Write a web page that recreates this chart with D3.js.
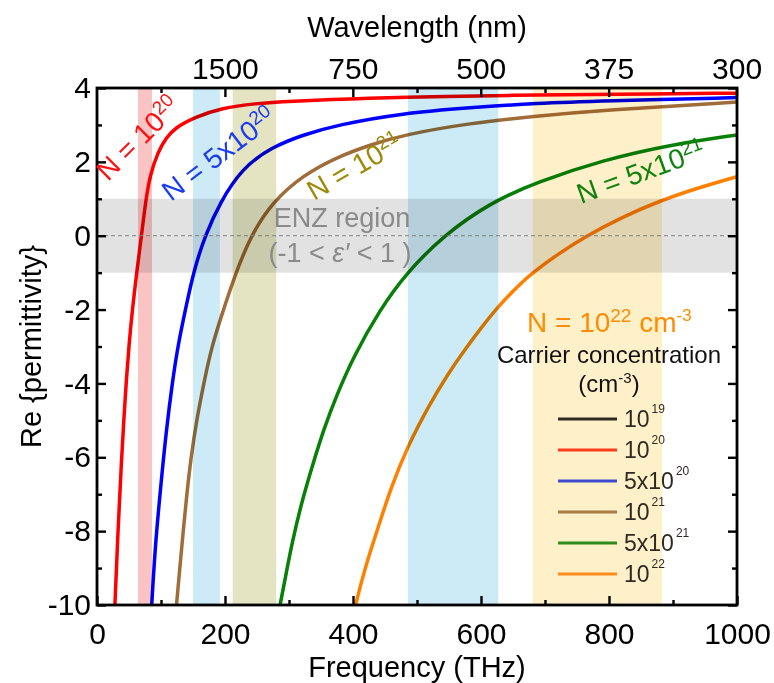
<!DOCTYPE html>
<html>
<head>
<meta charset="utf-8">
<script src="https://cdn.jsdelivr.net/npm/d3@7"></script>
<style>
    body { margin: 0; background: #fff; }
    text { font-family: "Liberation Sans", Arial, sans-serif; }
</style>
</head>
<body>
<div id="chart"></div>
<script>
'use strict';

// Axis ticks
const freqTicks = [0, 200, 400, 600, 800, 1000];
const freqMinorTicks = [100, 300, 500, 700, 900];
const wavelengthTicks = [1500, 750, 500, 375, 300];
const permTicks = [-10, -8, -6, -4, -2, 0, 2, 4];
const permMinorTicks = [-9, -7, -5, -3, -1, 1, 3];

// Curves: frequency in THz, Re{permittivity}
const freq1e20 = [28, 32.8, 38.3, 41.9, 45.8, 50, 55.2, 62.5, 69.5, 75.8, 82.8, 95.3, 108, 121.9, 153, 195, 247, 300, 400, 478, 600, 687, 800, 1000];
const eps1e20 = [-10, -7.97, -6.07, -4.99, -3.91, -2.96, -2.01, -0.93, 0, 0.91, 1.64, 2.27, 2.65, 2.92, 3.21, 3.46, 3.58, 3.64, 3.71, 3.75, 3.79, 3.81, 3.83, 3.86];
const freq5e20 = [85.5, 91, 98.4, 108, 118.3, 126.6, 140, 151.6, 168.8, 192.2, 226.6, 273, 322, 375, 478, 583, 687, 791, 1000];
const eps5e20 = [-10, -8.4, -7, -5.3, -3.9, -2.96, -1.85, -0.93, 0, 0.9, 1.83, 2.4, 2.73, 3.0, 3.32, 3.47, 3.59, 3.65, 3.74];
const freq1e21 = [124.2, 129.4, 134.7, 140.3, 146.9, 155.5, 168, 178, 192.2, 218.3, 240.6, 273.4, 322, 375, 427, 478, 583, 687, 791, 1000];
const eps1e21 = [-10, -9, -8, -7, -6, -5, -3.9, -3.1, -2.28, -0.93, 0, 0.9, 1.64, 2.13, 2.46, 2.73, 3.05, 3.24, 3.4, 3.62];
const freq5e21 = [286, 295, 305, 320, 337, 355, 375, 400, 442, 484, 541, 614, 687, 791, 895, 1000];
const eps5e21 = [-10, -9.2, -8.3, -7.2, -6.2, -5.2, -4.3, -3.3, -2.0, -1.0, 0, 0.89, 1.45, 2.05, 2.46, 2.73];
const freq1e22 = [404, 415, 427, 442, 460, 484, 520, 550, 572, 600, 625, 661, 681, 720, 765, 820, 880, 940, 1000];
const eps1e22 = [-10, -9.25, -8.55, -7.75, -6.8, -5.75, -4.55, -3.7, -3.15, -2.5, -1.95, -1.3, -1.0, -0.5, 0, 0.5, 0.95, 1.3, 1.6];

// Shaded frequency bands (THz) and the ENZ permittivity range
const bandFrom = [64, 150, 212, 486, 681];
const bandTo = [86, 192, 280, 627, 883];
const enzRange = [-1, 1];

// Legend entries: base text, exponent
const legendBase = ['10', '10', '5x10', '10', '5x10', '10'];
const legendExp = ['19', '20', '20', '21', '21', '22'];

/*
Permittivity chart
 */
class PermittivityChart {

    // Configs
    svgW = 774;
    svgH = 683;
    gMargin = {top: 88, right: 37, bottom: 78, left: 97};
    gW = this.svgW - (this.gMargin.left + this.gMargin.right);
    gH = this.svgH - (this.gMargin.top + this.gMargin.bottom);
    lightSpeed = 299792.458; // nm * THz

    // Styles
    curveColors = ['#ff0000', '#0000ff', '#a06c3a', '#088008', '#ff8000'];
    bandColors = ['#fac4c4', '#cdeaf7', '#e4e4c3', '#cdeaf7', '#fef0c8'];
    legendColors = ['#2f2a20', '#ff3c1e', '#3c4ccc', '#a87c40', '#2e8b1e', '#ff8c1e'];

    // Tools
    xScale = d3.scaleLinear().domain([0, 1000]).range([0, this.gW]);
    yScale = d3.scaleLinear().domain([-10, 4]).range([this.gH, 0]);

    constructor(_target) {
        this.target = _target;
        this.init();
    }

    /*
    1. Init
     */
    init() {
        const vis = this;

        vis.svg = d3.select(`#${vis.target}`)
            .append('svg')
            .attr('width', vis.svgW)
            .attr('height', vis.svgH);
        vis.g = vis.svg.append('g')
            .attr('transform', `translate(${vis.gMargin.left},${vis.gMargin.top})`);

        vis.svg.append('defs').append('clipPath')
            .attr('id', 'plotClip')
            .append('rect')
            .attr('width', vis.gW)
            .attr('height', vis.gH);

        vis.wrangle();
    }

    /*
    2. Wrangle
     */
    wrangle() {
        const vis = this;
        const pairs = (fs, es) => fs.map((f, i) => ({f: f, e: es[i]}));
        vis.series = [
            pairs(freq1e20, eps1e20),
            pairs(freq5e20, eps5e20),
            pairs(freq1e21, eps1e21),
            pairs(freq5e21, eps5e21),
            pairs(freq1e22, eps1e22)
        ];
        vis.bands = bandFrom.map((d, i) => ({from: d, to: bandTo[i], color: vis.bandColors[i]}));
        vis.render();
    }

    /*
    3. Render
     */
    render() {
        const vis = this;
        const x = vis.xScale, y = vis.yScale;

        // Curves
        const line = d3.line()
            .x(d => x(d.f))
            .y(d => y(d.e))
            .curve(d3.curveBasis);
        vis.g.append('g')
            .attr('clip-path', 'url(#plotClip)')
            .selectAll('path')
            .data(vis.series)
            .join('path')
            .attr('d', line)
            .attr('fill', 'none')
            .attr('stroke', (d, i) => vis.curveColors[i])
            .attr('stroke-width', 3.5);

        // Bands, multiplied over the curves
        vis.g.append('g')
            .selectAll('rect')
            .data(vis.bands)
            .join('rect')
            .attr('x', d => x(d.from))
            .attr('width', d => x(d.to) - x(d.from))
            .attr('y', 0)
            .attr('height', vis.gH)
            .attr('fill', d => d.color)
            .style('mix-blend-mode', 'multiply');

        // ENZ region
        vis.g.append('rect')
            .attr('x', 0)
            .attr('width', vis.gW)
            .attr('y', y(enzRange[1]))
            .attr('height', y(enzRange[0]) - y(enzRange[1]))
            .attr('fill', '#e2e2e2')
            .style('mix-blend-mode', 'multiply');
        vis.g.append('line')
            .attr('x1', 0).attr('x2', vis.gW)
            .attr('y1', y(0)).attr('y2', y(0))
            .attr('stroke', '#808080')
            .attr('stroke-width', 1)
            .attr('stroke-dasharray', '4,3');

        // Axes
        const fmt = d => String(d);
        const axisFont = 30;
        const styleAxis = (sel) => {
            sel.select('.domain').remove();
            sel.selectAll('line').attr('stroke', '#000').attr('stroke-width', 2.4);
            sel.selectAll('text').attr('font-size', axisFont).attr('fill', '#000')
                .style('font-family', '"Liberation Sans", Arial, sans-serif');
        };
        vis.g.append('g')
            .attr('transform', `translate(0,${vis.gH})`)
            .call(d3.axisBottom(x).tickValues(freqTicks).tickFormat(fmt).tickSize(-9).tickPadding(18))
            .call(styleAxis);
        vis.g.append('g')
            .attr('transform', `translate(0,${vis.gH})`)
            .call(d3.axisBottom(x).tickValues(freqMinorTicks).tickFormat('').tickSize(-5))
            .call(styleAxis);
        vis.g.append('g')
            .call(d3.axisTop(x)
                .tickValues(wavelengthTicks.map(w => vis.lightSpeed / w))
                .tickFormat((d, i) => wavelengthTicks[i])
                .tickSize(-9).tickPadding(9))
            .call(styleAxis);
        vis.g.append('g')
            .call(d3.axisTop(x).tickValues(freqMinorTicks).tickFormat('').tickSize(-5))
            .call(styleAxis);
        vis.g.append('g')
            .call(d3.axisLeft(y).tickValues(permTicks).tickFormat(fmt).tickSize(-9).tickPadding(6))
            .call(styleAxis);
        vis.g.append('g')
            .call(d3.axisLeft(y).tickValues(permMinorTicks).tickFormat('').tickSize(-5))
            .call(styleAxis);
        vis.g.append('g')
            .attr('transform', `translate(${vis.gW},0)`)
            .call(d3.axisRight(y).tickValues(permTicks).tickFormat('').tickSize(-9))
            .call(styleAxis);
        vis.g.append('g')
            .attr('transform', `translate(${vis.gW},0)`)
            .call(d3.axisRight(y).tickValues(permMinorTicks).tickFormat('').tickSize(-5))
            .call(styleAxis);

        // Frame
        vis.g.append('rect')
            .attr('width', vis.gW)
            .attr('height', vis.gH)
            .attr('fill', 'none')
            .attr('stroke', '#000')
            .attr('stroke-width', 2.8);

        // Axis titles
        vis.svg.append('text')
            .attr('x', vis.gMargin.left + vis.gW / 2)
            .attr('y', 677)
            .attr('text-anchor', 'middle')
            .attr('font-size', 29)
            .text('Frequency (THz)');
        vis.svg.append('text')
            .attr('x', vis.gMargin.left + vis.gW / 2)
            .attr('y', 37)
            .attr('text-anchor', 'middle')
            .attr('font-size', 29)
            .text('Wavelength (nm)');
        vis.svg.append('text')
            .attr('transform', `translate(41,${vis.gMargin.top + vis.gH / 2}) rotate(-90)`)
            .attr('text-anchor', 'middle')
            .attr('font-size', 29)
            .text('Re {permittivity}');

        // ENZ label
        const enz = vis.g.append('g').attr('fill', '#8a8a8a').attr('font-size', 27);
        enz.append('text')
            .attr('x', 245).attr('y', 139)
            .attr('text-anchor', 'middle')
            .text('ENZ region');
        const enz2 = enz.append('text')
            .attr('x', 243).attr('y', 174)
            .attr('text-anchor', 'middle');
        enz2.append('tspan').text('(-1 < ');
        enz2.append('tspan').attr('font-style', 'italic').text('ε′');
        enz2.append('tspan').text(' < 1 )');

        // Curve labels
        const curveLabel = (px, py, angle, size, color, base, exp, tail, tailExp) => {
            const t = vis.svg.append('text')
                .attr('transform', `translate(${px},${py}) rotate(${angle})`)
                .attr('fill', color)
                .attr('font-size', size);
            t.append('tspan').text(base);
            t.append('tspan').attr('font-size', size * 0.68).attr('dy', -size * 0.36).text(exp);
            if (tail) {
                t.append('tspan').attr('dy', size * 0.36).text(tail);
                t.append('tspan').attr('font-size', size * 0.6).attr('dy', -size * 0.38).text(tailExp);
            }
        };
        curveLabel(108, 182, -45, 28, '#ff1010', 'N = 10', '20');
        curveLabel(171, 202, -37, 28, '#1a3cf0', 'N = 5x10', '20');
        curveLabel(314, 201, -30, 28, '#9c8a08', 'N = 10', '21');
        curveLabel(581, 204, -20, 28, '#10820e', 'N = 5x10', '21');
        curveLabel(527, 332, 0, 28, '#ff8c00', 'N = 10', '22', ' cm', '-3');

        // Legend
        const legendX = 558, legendY = 419, legendStep = 31;
        vis.svg.append('text')
            .attr('x', 609).attr('y', 363)
            .attr('text-anchor', 'middle')
            .attr('font-size', 24)
            .attr('fill', '#111')
            .text('Carrier concentration');
        const unit = vis.svg.append('text')
            .attr('x', 609).attr('y', 392)
            .attr('text-anchor', 'middle')
            .attr('font-size', 24)
            .attr('fill', '#111');
        unit.append('tspan').text('(cm');
        unit.append('tspan').attr('font-size', 15).attr('dy', -9).text('-3');
        unit.append('tspan').attr('dy', 9).text(')');

        const items = vis.svg.append('g')
            .selectAll('g')
            .data(legendBase)
            .join('g')
            .attr('transform', (d, i) => `translate(${legendX},${legendY + i * legendStep})`);
        items.append('line')
            .attr('x1', 0).attr('x2', 59)
            .attr('stroke', (d, i) => vis.legendColors[i])
            .attr('stroke-width', 3);
        const lt = items.append('text')
            .attr('x', 66).attr('y', 8)
            .attr('font-size', 23)
            .attr('fill', '#2e2a22');
        lt.append('tspan').text(d => d);
        lt.append('tspan')
            .attr('font-size', 12)
            .attr('dx', 2)
            .attr('dy', -14)
            .text((d, i) => legendExp[i]);
    }
}

new PermittivityChart('chart');
</script>
</body>
</html>
